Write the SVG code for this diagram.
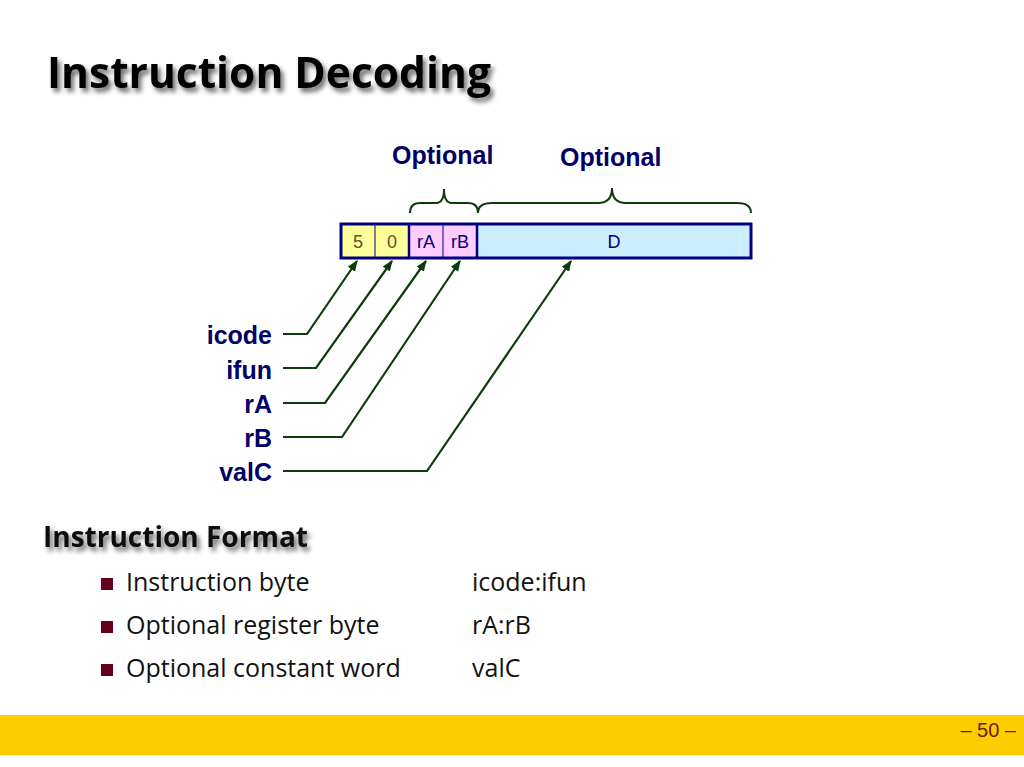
<svg xmlns="http://www.w3.org/2000/svg" width="1024" height="767" viewBox="0 0 1024 767">
<style>
.lbl{font-family:"Liberation Sans",Arial,sans-serif;font-weight:bold;font-size:25px;fill:#000066;}
.cell{font-family:"Liberation Sans",Arial,sans-serif;font-size:18px;text-anchor:middle;}
.body{font-family:"Open Sans","Noto Sans",sans-serif;font-size:25px;fill:#111;}
.conn{fill:none;stroke:#0B3D0B;stroke-width:2.2;}
.brace{fill:none;stroke:#0B3D0B;stroke-width:2;}
</style>
<defs>
<marker id="ah" viewBox="0 0 10 10" refX="9" refY="5" markerWidth="5" markerHeight="5" orient="auto">
<path d="M0,1 L10,5 L0,9 z" fill="#0B3D0B"/>
</marker>
<filter id="sh" x="-10%" y="-30%" width="130%" height="170%">
<feGaussianBlur in="SourceAlpha" stdDeviation="2.5"/>
<feOffset dx="3" dy="4" result="b"/>
<feComponentTransfer><feFuncA type="linear" slope="0.6"/></feComponentTransfer>
<feMerge><feMergeNode/><feMergeNode in="SourceGraphic"/></feMerge>
</filter>
</defs>
<rect width="1024" height="767" fill="#fff"/>
<g id="title">
<text x="47" y="88" filter="url(#sh)" style="font-family:'Open Sans','Noto Sans',sans-serif;font-weight:bold;font-size:42.5px;fill:#000;">Instruction Decoding</text>
</g>
<g id="optional1"><text class="lbl" x="392" y="164">Optional</text></g>
<g id="optional2"><text class="lbl" x="560" y="166">Optional</text></g>
<g id="braces">
<path class="brace" d="M410,213 Q410,203 420,203 L436,203 Q444,203 444,189 Q444,203 452,203 L468,203 Q478,203 478,213"/>
<path class="brace" d="M478,213 Q478,203 492,203 L598,203 Q612,203 612,188 Q612,203 626,203 L737,203 Q751,203 751,213"/>
</g>
<g id="instr">
<rect x="341" y="224" width="68" height="34" fill="#FFFF99"/>
<rect x="409" y="224" width="68" height="34" fill="#FFCCFF"/>
<rect x="477" y="224" width="274" height="34" fill="#CCECFF"/>
<line x1="375" y1="224" x2="375" y2="258" stroke="#000080" stroke-width="1"/>
<line x1="443" y1="224" x2="443" y2="258" stroke="#000080" stroke-width="1"/>
<line x1="409" y1="224" x2="409" y2="258" stroke="#000080" stroke-width="2.5"/>
<line x1="477" y1="224" x2="477" y2="258" stroke="#000080" stroke-width="2.5"/>
<rect x="341" y="224" width="410" height="34" fill="none" stroke="#000080" stroke-width="3"/>
<text class="cell" x="358" y="248" fill="#555533">5</text>
<text class="cell" x="392" y="248" fill="#555533">0</text>
<text class="cell" x="426" y="248" fill="#000080">rA</text>
<text class="cell" x="460" y="248" fill="#000080">rB</text>
<text class="cell" x="614" y="248" fill="#000080">D</text>
</g>
<g id="labels" text-anchor="end">
<text class="lbl" x="272" y="344">icode</text>
<text class="lbl" x="272" y="379">ifun</text>
<text class="lbl" x="272" y="413">rA</text>
<text class="lbl" x="272" y="447">rB</text>
<text class="lbl" x="272" y="481">valC</text>
</g>
<g id="connectors">
<polyline class="conn" points="283,334 307,334 357,261" marker-end="url(#ah)"/>
<polyline class="conn" points="283,368 316,368 392,261" marker-end="url(#ah)"/>
<polyline class="conn" points="283,403 325,403 426,261" marker-end="url(#ah)"/>
<polyline class="conn" points="283,437 342,437 460,261" marker-end="url(#ah)"/>
<polyline class="conn" points="283,471 427,471 571,261" marker-end="url(#ah)"/>
</g>
<g id="format">
<text x="43" y="547" filter="url(#sh)" style="font-family:'Open Sans','Noto Sans',sans-serif;font-weight:bold;font-size:28px;fill:#111;">Instruction Format</text>
<rect x="101" y="578" width="12" height="12" fill="#66001A"/>
<rect x="101" y="621" width="12" height="12" fill="#66001A"/>
<rect x="101" y="664" width="12" height="12" fill="#66001A"/>
<text class="body" x="126" y="591">Instruction byte</text>
<text class="body" x="126" y="634">Optional register byte</text>
<text class="body" x="126" y="677">Optional constant word</text>
<text class="body" x="472" y="591">icode:ifun</text>
<text class="body" x="472" y="634">rA:rB</text>
<text class="body" x="472" y="677">valC</text>
</g>
<g id="footer">
<rect x="0" y="715" width="1024" height="40" fill="#FFCC00"/>
<text x="1016" y="737" text-anchor="end" style="font-family:'Liberation Sans',Arial,sans-serif;font-size:20px;fill:#662200;">– 50 –</text>
</g>
</svg>
